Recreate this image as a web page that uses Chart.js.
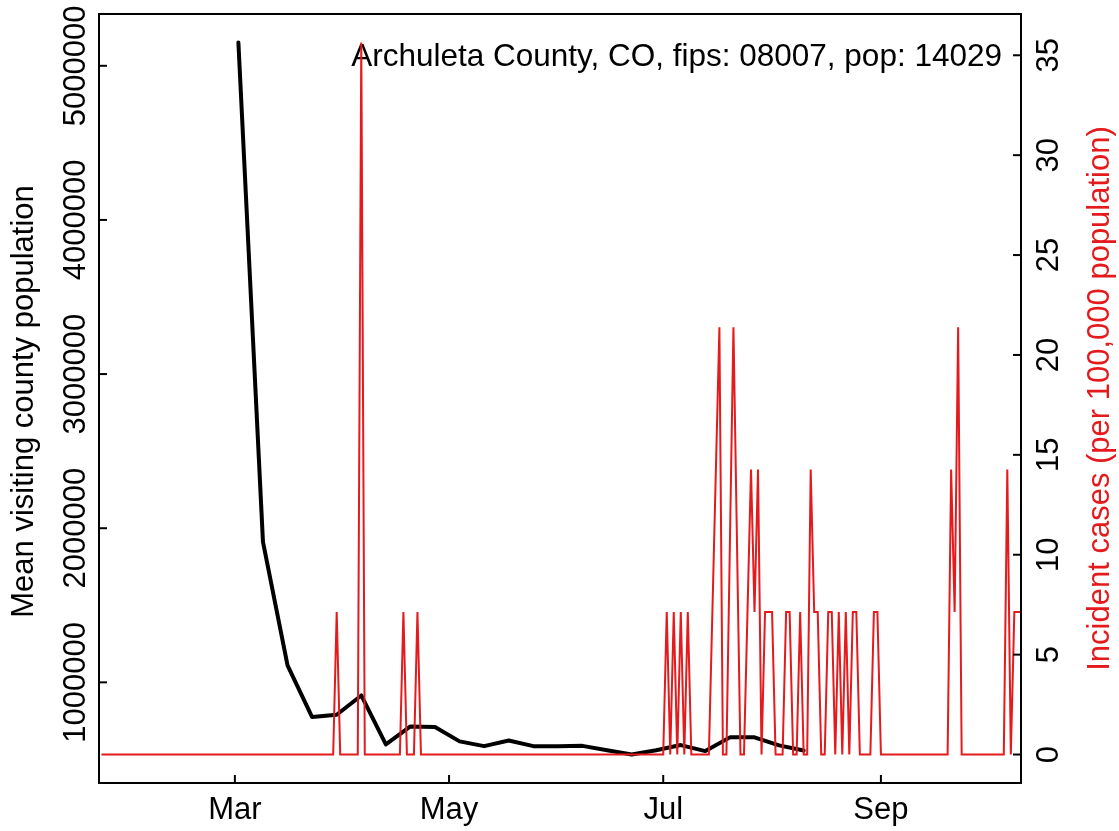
<!DOCTYPE html>
<html>
<head>
<meta charset="utf-8">
<script src="https://cdn.jsdelivr.net/npm/chart.js@4.4.1/dist/chart.umd.min.js"></script>
<style>
  html, body { margin: 0; padding: 0; background: #fff; }
  #chart { display: block; }
</style>
</head>
<body>
<canvas id="chart" width="1119" height="831"></canvas>
<script>
const countyTitle = 'Archuleta County, CO, fips: 08007, pop: 14029';

// days are day-of-year 2020 (Jan 1 = 0)
const visitDays = [61, 68, 75, 82, 89, 96, 103, 110, 117, 124, 131, 138,
    145, 152, 159, 166, 173, 180, 187, 194, 201, 208, 215, 222];
const visitValues = [5151000, 1911000, 1110000, 775000, 790000, 915000, 597000, 714000,
    710000, 617000, 586000, 623000, 586000, 585000, 588000, 560000,
    532000, 560000, 593000, 554000, 643000, 643000, 591000, 558000];

// vertices of the incident cases trace (per 100,000)
const caseDays = [22, 88, 89, 90, 95, 96, 97, 107, 108, 109, 111, 112, 113,
    182, 183, 184, 185, 186, 187, 188, 189, 190, 195, 198, 199, 200, 202,
    204, 205, 207, 208, 209, 210, 211, 213, 214, 216, 217, 218, 219, 220,
    221, 222, 223, 224, 225, 226, 227, 228, 229, 230, 231, 232, 233, 234,
    235, 236, 237, 238, 241, 242, 243, 244, 263, 264, 265, 266, 267, 279,
    280, 281, 282, 284];
const caseValues = [0, 0, 7.13, 0, 0, 35.64, 0, 0, 7.13, 0, 0, 7.13, 0,
    0, 7.13, 0, 7.13, 0, 7.13, 0, 7.13, 0, 0, 21.38, 0, 0, 21.38,
    0, 0, 14.26, 7.13, 14.26, 0, 7.13, 7.13, 0, 0, 7.13, 7.13, 0, 0,
    7.13, 0, 0, 14.26, 7.13, 7.13, 0, 0, 7.13, 7.13, 0, 7.13, 0, 7.13,
    0, 7.13, 7.13, 0, 0, 7.13, 7.13, 0, 0, 14.26, 7.13, 21.38, 0, 0,
    14.26, 0, 7.13, 7.13];

const monthTicks = [60, 121, 182, 244];
const monthLabels = ['Mar', 'May', 'Jul', 'Sep'];
const visitTicks = [1000000, 2000000, 3000000, 4000000, 5000000];
const caseTicks = [0, 5, 10, 15, 20, 25, 30, 35];

const red = '#e41a1c';
const font = '31px "Liberation Sans", Arial, sans-serif';

function rotatedText(ctx, text, x, y) {
    ctx.save();
    ctx.translate(x, y);
    ctx.rotate(-Math.PI / 2);
    ctx.fillText(text, 0, 0);
    ctx.restore();
}

function tick(ctx, x1, y1, x2, y2) {
    ctx.beginPath();
    ctx.moveTo(x1, y1);
    ctx.lineTo(x2, y2);
    ctx.stroke();
}

const titlePlugin = {
    id: 'title',
    beforeDatasetsDraw(chart) {
        const { ctx, chartArea: a } = chart;
        ctx.save();
        ctx.font = '31.5px "Liberation Sans", Arial, sans-serif';
        ctx.fillStyle = '#000';
        ctx.textAlign = 'right';
        ctx.textBaseline = 'alphabetic';
        ctx.fillText(countyTitle, a.right - 19, a.top + 52);
        ctx.restore();
    }
};

const axesPlugin = {
    id: 'boxAxes',
    afterDraw(chart) {
        const { ctx, chartArea: a, scales } = chart;
        ctx.save();
        ctx.strokeStyle = '#000';
        ctx.lineWidth = 2;
        ctx.strokeRect(a.left, a.top, a.right - a.left, a.bottom - a.top);
        ctx.font = font;
        ctx.fillStyle = '#000';
        ctx.textAlign = 'center';
        ctx.textBaseline = 'alphabetic';

        monthTicks.forEach((d, i) => {
            const x = scales.x.getPixelForValue(d);
            tick(ctx, x, a.bottom, x, a.bottom - 8);
            ctx.fillText(monthLabels[i], x, a.bottom + 36);
        });

        visitTicks.forEach(v => {
            const y = scales.yVisit.getPixelForValue(v);
            tick(ctx, a.left, y, a.left + 8, y);
            rotatedText(ctx, String(v), a.left - 14, y);
        });

        caseTicks.forEach(v => {
            const y = scales.yCases.getPixelForValue(v);
            tick(ctx, a.right, y, a.right - 8, y);
            rotatedText(ctx, String(v), a.right + 37, y);
        });

        const midY = (a.top + a.bottom) / 2;
        rotatedText(ctx, 'Mean visiting county population', a.left - 66, midY + 3);
        ctx.fillStyle = red;
        rotatedText(ctx, 'Incident cases (per 100,000 population)', a.right + 88, midY);
        ctx.restore();
    }
};

const chart = new Chart(document.getElementById('chart'), {
    type: 'line',
    data: {
        datasets: [{
            label: 'Incident cases',
            data: caseDays.map((d, i) => ({ x: d, y: caseValues[i] })),
            yAxisID: 'yCases',
            borderColor: red,
            borderWidth: 2,
            pointRadius: 0,
            tension: 0,
            order: 0
        }, {
            label: 'Mean visiting county population',
            data: visitDays.map((d, i) => ({ x: d, y: visitValues[i] })),
            yAxisID: 'yVisit',
            borderColor: '#000',
            borderWidth: 4,
            borderJoinStyle: 'round',
            borderCapStyle: 'round',
            pointRadius: 0,
            tension: 0,
            order: 1
        }]
    },
    options: {
        responsive: false,
        animation: false,
        layout: { padding: { top: 14, left: 0, right: 0, bottom: 0 } },
        plugins: { legend: { display: false }, tooltip: { enabled: false } },
        scales: {
            x: {
                type: 'linear',
                min: 21.3,
                max: 283.9,
                grid: { display: false },
                border: { display: false },
                ticks: { display: false },
                afterBuildTicks: s => { s.ticks = monthTicks.map(v => ({ value: v })); },
                afterFit: s => { s.height = 48; }
            },
            yVisit: {
                position: 'left',
                min: 347000,
                max: 5336000,
                grid: { display: false },
                border: { display: false },
                ticks: { display: false },
                afterBuildTicks: s => { s.ticks = visitTicks.map(v => ({ value: v })); },
                afterFit: s => { s.width = 99; }
            },
            yCases: {
                position: 'right',
                min: -1.426,
                max: 37.066,
                grid: { display: false },
                border: { display: false },
                ticks: { display: false },
                afterBuildTicks: s => { s.ticks = caseTicks.map(v => ({ value: v })); },
                afterFit: s => { s.width = 98; }
            }
        }
    },
    plugins: [titlePlugin, axesPlugin]
});
</script>
</body>
</html>
